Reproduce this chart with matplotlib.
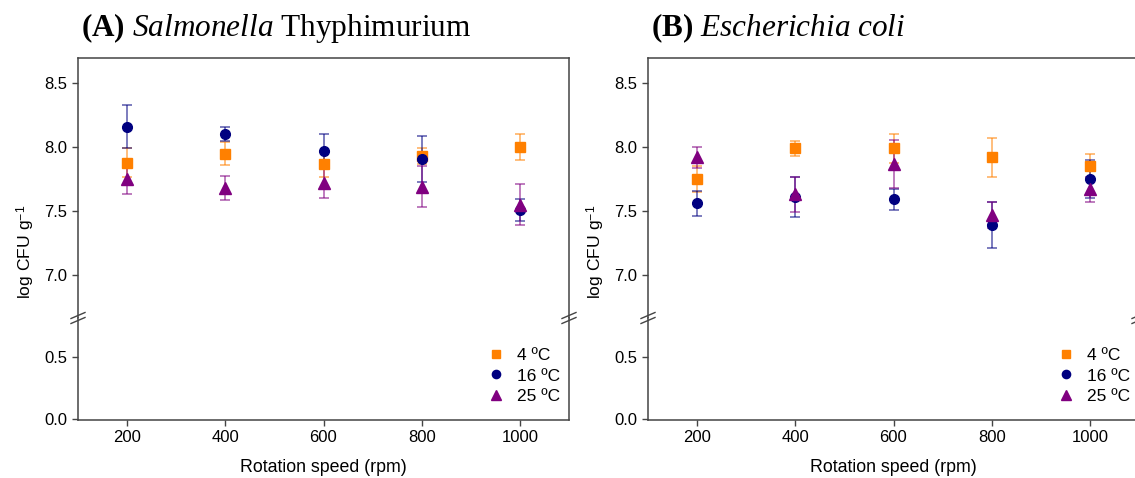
import matplotlib
matplotlib.use("Agg")
import matplotlib.pyplot as plt
import numpy as np

plt.rcParams['font.family'] = ['Liberation Sans', 'DejaVu Sans']
plt.rcParams['mathtext.fontset'] = 'custom'
plt.rcParams['mathtext.rm'] = 'Liberation Serif'
plt.rcParams['mathtext.it'] = 'Liberation Serif:italic'
plt.rcParams['mathtext.bf'] = 'Liberation Serif:bold'
plt.rcParams['mathtext.sf'] = 'Liberation Sans'

speeds = [200, 400, 600, 800, 1000]
temps = ["4 \u00baC", "16 \u00baC", "25 \u00baC"]

# (A) Salmonella Thyphimurium: means and SD, log CFU/g
sal_4 = [7.88, 7.95, 7.87, 7.93, 8.00]
sal_4_sd = [0.11, 0.09, 0.10, 0.06, 0.10]
sal_16 = [8.16, 8.10, 7.97, 7.91, 7.51]
sal_16_sd = [0.17, 0.055, 0.13, 0.18, 0.085]
sal_25 = [7.75, 7.68, 7.72, 7.69, 7.55]
sal_25_sd = [0.12, 0.095, 0.12, 0.16, 0.16]

# (B) Escherichia coli
eco_4 = [7.75, 7.99, 7.99, 7.92, 7.85]
eco_4_sd = [0.10, 0.056, 0.11, 0.15, 0.094]
eco_16 = [7.56, 7.61, 7.59, 7.39, 7.75]
eco_16_sd = [0.10, 0.155, 0.085, 0.18, 0.15]
eco_25 = [7.92, 7.63, 7.87, 7.47, 7.67]
eco_25_sd = [0.085, 0.14, 0.19, 0.10, 0.097]

colors = ["#FF8000", "#000080", "#800080"]
markers = ["s", "o", "^"]
msizes = [6.5, 7, 8]

W, H = 1135, 478
fig = plt.figure(figsize=(W / 100, H / 100), dpi=100)


def panel(left_px, series, title_parts, right_break=True):
    x0 = left_px / W
    w = 491 / W
    y_top, y_brk, y_bot = 58, 318, 420
    ax_hi = fig.add_axes([x0, 1 - y_brk / H, w, (y_brk - y_top) / H])
    ax_lo = fig.add_axes([x0, 1 - y_bot / H, w, (y_bot - y_brk) / H])

    for ax in (ax_hi, ax_lo):
        for i, (m, sd) in enumerate(series):
            ax.errorbar(speeds, m, yerr=sd, fmt='none', ecolor=colors[i],
                        alpha=0.6, elinewidth=1.2, capsize=3.5, capthick=1.2)
        for i in [0, 1, 2]:
            m, sd = series[i]
            ax.plot(speeds, m, linestyle='none', marker=markers[i],
                    color=colors[i], markersize=msizes[i], label=temps[i])
        ax.set_xlim(100, 1100)
        for s in ax.spines.values():
            s.set_color('#444444')
            s.set_linewidth(1.1)
        ax.tick_params(direction='out', length=4, width=1, colors='#444444',
                       labelcolor='black', labelsize=12)

    ax_hi.set_ylim(6.66, 8.70)
    ax_hi.set_yticks([7.0, 7.5, 8.0, 8.5])
    ax_hi.set_yticklabels(["7.0", "7.5", "8.0", "8.5"])
    ax_hi.spines['bottom'].set_visible(False)
    ax_hi.tick_params(axis='x', bottom=False, labelbottom=False)
    ax_hi.tick_params(axis='y', right=False)

    ax_lo.set_ylim(-0.005, 0.815)
    ax_lo.set_yticks([0.0, 0.5])
    ax_lo.set_yticklabels(["0.0", "0.5"])
    ax_lo.spines['top'].set_visible(False)
    ax_lo.set_xticks(speeds)
    ax_lo.set_xticklabels([str(s) for s in speeds])
    ax_lo.set_xlabel("Rotation speed (rpm)", fontsize=12.8, labelpad=10)

    ax_lo.legend(loc='lower right', frameon=False, fontsize=12.5,
                 handlelength=1.2, handletextpad=0.65, labelspacing=0.3,
                 markerscale=0.85, borderaxespad=0.0,
                 bbox_to_anchor=(0.997, 0.09))

    # break marks on the spines
    d = 7
    yb = 1 - y_brk / H
    xs = [x0]
    if right_break:
        xs.append(x0 + w)
    for xb in xs:
        for off in (-2.5, 2.5):
            fig.add_artist(plt.Line2D(
                [xb - d / W, xb + d / W],
                [yb + off / H - 3 / H, yb + off / H + 3 / H],
                color='#444444', lw=1.0))

    fig.text(left_px / W - 52 / W, 1 - 252 / H,
             r"log CFU g$^{\mathsf{-1}}$", rotation=90, fontsize=12.6,
             ha='center', va='center')
    fig.text(left_px / W + 3 / W, 1 - 28 / H, title_parts, fontsize=22.5,
             ha='left', va='center', family='Liberation Serif')
    return ax_hi, ax_lo


panel(78, [(sal_4, sal_4_sd), (sal_16, sal_16_sd), (sal_25, sal_25_sd)],
      r"$\mathbf{(A)}$ $\mathit{Salmonella}$ Thyphimurium")
panel(648, [(eco_4, eco_4_sd), (eco_16, eco_16_sd), (eco_25, eco_25_sd)],
      r"$\mathbf{(B)}$ $\mathit{Escherichia\ coli}$")

fig.savefig("out.png", dpi=100)
plt.close(fig)
